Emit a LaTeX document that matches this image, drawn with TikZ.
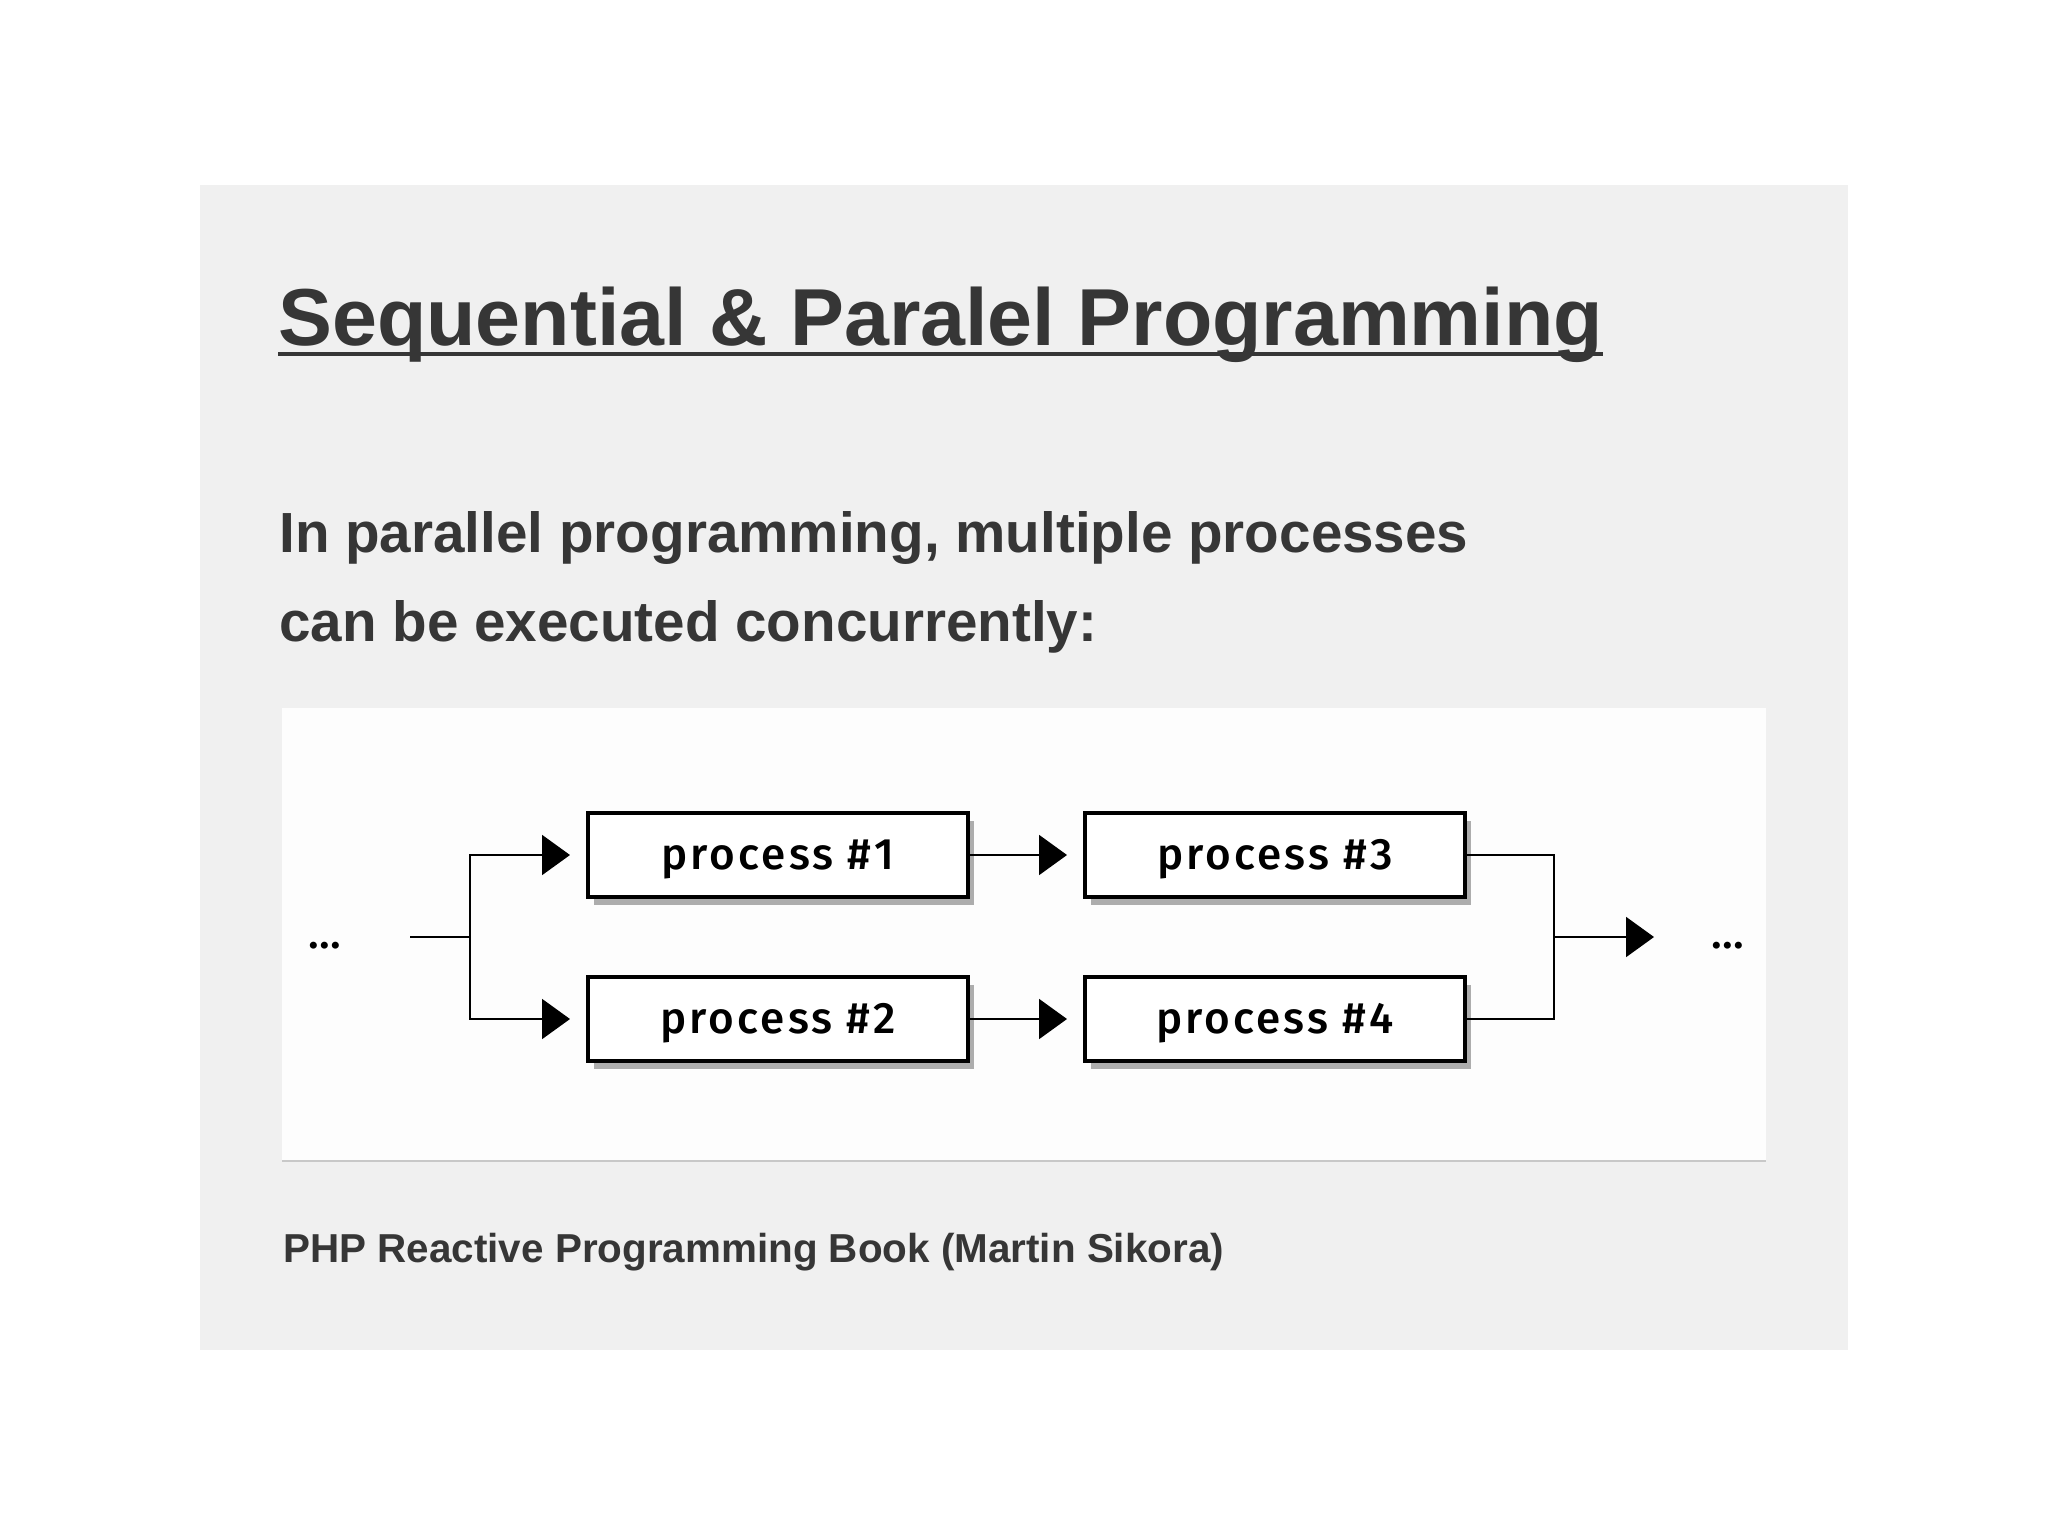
\documentclass[tikz,border=0pt]{standalone}
\usepackage{fontspec}
\setmainfont{Liberation Sans}
\newfontfamily\procfont[LetterSpace=7]{Fira Sans Medium}
\usetikzlibrary{arrows.meta,shadows}
\definecolor{textc}{HTML}{363636}
\definecolor{panel}{HTML}{F0F0F0}
\definecolor{white2}{HTML}{FDFDFD}
\definecolor{rule}{HTML}{C8C8C8}
\tikzset{
  procbox/.style={draw=black, line width=2pt, fill=white, minimum width=190pt, minimum height=42pt,
    inner sep=0pt, text height=14pt, text depth=0pt, font=\procfont\fontsize{22}{24}\selectfont,
    drop shadow={shadow xshift=3pt, shadow yshift=-4pt, fill=black!40, opacity=0.8}},
  conn/.style={draw=black, line width=1pt},
  arr/.style={conn, -{Triangle[length=14pt,width=20pt]}},
  dotsl/.style={font=\procfont\bfseries\fontsize{18}{20}\selectfont, inner sep=0pt},
  txt/.style={text=textc, inner sep=0pt, anchor=base west, font=\bfseries}
}
\begin{document}
\begin{tikzpicture}[x=0.5pt,y=-0.5pt]
\useasboundingbox (0,0) rectangle (2048,1536);
\fill[white] (0,0) rectangle (2048,1536);
\fill[panel] (200,185) rectangle (1848,1350);
% title
\node[txt, font=\bfseries\fontsize{40.4}{44}\selectfont] (title) at (278,345) {Sequential \& Paralel Programming};
\draw[textc, line width=2pt] ([yshift=-4.5pt]title.base west) -- ([yshift=-4.5pt]title.base east);
% paragraph
\node[txt, font=\bfseries\fontsize{28.3}{32}\selectfont] (p1) at (279,552) {In parallel programming, multiple processes};
\node[txt, font=\bfseries\fontsize{28.3}{32}\selectfont] (p2) at (279,641) {can be executed concurrently:};
% diagram panel
\fill[white2] (282,708) rectangle (1766,1161);
\draw[rule, line width=1pt] (282,1161) -- (1766,1161);
% boxes
\node[procbox] (b1) at (778,855) {process \#1};
\node[procbox] (b2) at (778,1019) {process \#2};
\node[procbox] (b3) at (1275,855) {process \#3};
\node[procbox] (b4) at (1275,1019) {process \#4};
% dots
\node[dotsl] (dl) at (325,946) {...};
\node[dotsl] (dr) at (1728,946) {...};
% connectors
\coordinate (in) at (410,937);
\coordinate (jl) at (470,937);
\coordinate (jr) at (1554,937);
\coordinate (out) at (1654,937);
\draw[conn] (in) -- (jl);
\draw[arr, shorten >=8pt] (jl) |- (b1.west);
\draw[arr, shorten >=8pt] (jl) |- (b2.west);
\draw[arr, shorten >=8pt] (b1.east) -- (b3.west);
\draw[arr, shorten >=8pt] (b2.east) -- (b4.west);
\draw[conn] (b3.east) -| (jr);
\draw[conn] (b4.east) -| (jr);
\draw[arr] (jr) -- (out);
% caption
\node[txt, font=\bfseries\fontsize{20.2}{24}\selectfont] (cap) at (283,1262) {PHP Reactive Programming Book (Martin Sikora)};
\end{tikzpicture}
\end{document}
